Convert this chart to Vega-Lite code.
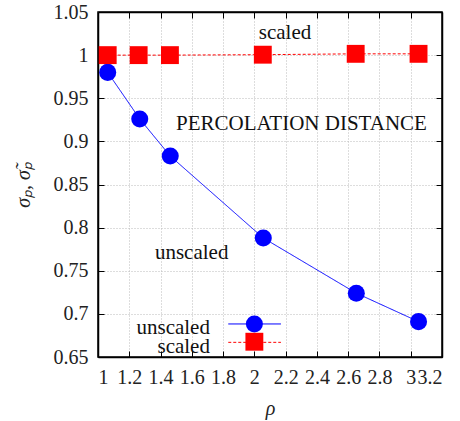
{
  "$schema": "https://vega.github.io/schema/vega-lite/v6.json",
  "width": 344,
  "height": 345,
  "autosize": "none",
  "padding": {"left": 98, "top": 12, "right": 18, "bottom": 64},
  "config": {
    "view": {"stroke": "black", "strokeWidth": 1.5},
    "axis": {
      "labelFont": "Liberation Serif",
      "labelFontSize": 20,
      "labelColor": "#222",
      "titleFont": "Liberation Serif",
      "titleFontSize": 20,
      "titleFontWeight": "normal",
      "titleColor": "#222",
      "domainColor": "black",
      "domainWidth": 1.5,
      "tickColor": "black",
      "tickWidth": 1,
      "gridColor": "#bbbbbb",
      "gridDash": [1, 2],
      "gridWidth": 1
    }
  },
  "datasets": {
    "main": [
      {"rho": 1.062, "sigma": 0.980, "series": "unscaled"},
      {"rho": 1.267, "sigma": 0.926, "series": "unscaled"},
      {"rho": 1.462, "sigma": 0.883, "series": "unscaled"},
      {"rho": 2.057, "sigma": 0.788, "series": "unscaled"},
      {"rho": 2.652, "sigma": 0.724, "series": "unscaled"},
      {"rho": 3.050, "sigma": 0.691, "series": "unscaled"},
      {"rho": 1.062, "sigma": 1.000, "series": "scaled"},
      {"rho": 1.260, "sigma": 1.000, "series": "scaled"},
      {"rho": 1.460, "sigma": 1.000, "series": "scaled"},
      {"rho": 2.054, "sigma": 1.0005, "series": "scaled"},
      {"rho": 2.648, "sigma": 1.0015, "series": "scaled"},
      {"rho": 3.050, "sigma": 1.0015, "series": "scaled"}
    ],
    "one": [{}]
  },
  "resolve": {"axis": {"x": "independent", "y": "independent"}},
  "layer": [
    {
      "data": {"name": "main"},
      "mark": {"type": "line", "strokeWidth": 1},
      "encoding": {
        "x": {
          "field": "rho", "type": "quantitative",
          "scale": {"domain": [1, 3.2], "nice": false, "zero": false},
          "axis": {
            "values": [1, 1.2, 1.4, 1.6, 1.8, 2, 2.2, 2.4, 2.6, 2.8, 3, 3.2],
            "labelFont": "Liberation Serif", "titleFont": "Liberation Serif",
            "format": "~g", "tickSize": -6, "labelPadding": 16,
            "title": "ρ", "titleFontStyle": "italic", "titlePadding": 11, "grid": true
          }
        },
        "y": {
          "field": "sigma", "type": "quantitative",
          "scale": {"domain": [0.65, 1.05], "nice": false, "zero": false},
          "axis": {
            "values": [0.65, 0.7, 0.75, 0.8, 0.85, 0.9, 0.95, 1, 1.05],
            "labelFont": "Liberation Serif", "titleFont": "Liberation Serif",
            "format": "~g", "tickSize": -6, "labelPadding": 16,
            "title": "σₚ, σ̃ₚ", "titleFontStyle": "italic", "titlePadding": 20, "grid": true
          }
        },
        "color": {"field": "series", "type": "nominal",
          "scale": {"domain": ["unscaled", "scaled"], "range": ["#0000ff", "#ff0000"]}, "legend": null},
        "strokeDash": {"field": "series", "type": "nominal",
          "scale": {"domain": ["unscaled", "scaled"], "range": [[1, 0], [3, 2]]}, "legend": null}
      }
    },
    {
      "data": {"name": "main"},
      "mark": {"type": "point", "filled": true, "opacity": 1},
      "encoding": {
        "x": {"field": "rho", "type": "quantitative", "axis": {"orient": "top", "labels": false, "tickSize": -6, "title": null, "grid": false, "values": [1, 1.2, 1.4, 1.6, 1.8, 2, 2.2, 2.4, 2.6, 2.8, 3, 3.2]}},
        "y": {"field": "sigma", "type": "quantitative", "axis": {"orient": "right", "labels": false, "tickSize": -6, "title": null, "grid": false, "values": [0.65, 0.7, 0.75, 0.8, 0.85, 0.9, 0.95, 1, 1.05]}},
        "color": {"field": "series", "type": "nominal", "legend": null},
        "shape": {"field": "series", "type": "nominal",
          "scale": {"domain": ["unscaled", "scaled"], "range": ["circle", "square"]}, "legend": null},
        "size": {"field": "series", "type": "nominal",
          "scale": {"domain": ["unscaled", "scaled"], "range": [290, 320]}, "legend": null}
      }
    },
    {
      "data": {"name": "one"},
      "mark": {"type": "text", "font": "Liberation Serif", "fontSize": 21, "color": "#111", "align": "center", "baseline": "middle"},
      "encoding": {
        "x": {"datum": 2.196, "type": "quantitative", "axis": null},
        "y": {"datum": 1.0256, "type": "quantitative", "axis": null},
        "text": {"value": "scaled"}
      }
    },
    {
      "data": {"name": "one"},
      "mark": {"type": "text", "font": "Liberation Serif", "fontSize": 21, "color": "#111", "align": "center", "baseline": "middle"},
      "encoding": {
        "x": {"datum": 2.301, "type": "quantitative", "axis": null},
        "y": {"datum": 0.92, "type": "quantitative", "axis": null},
        "text": {"value": "PERCOLATION DISTANCE"}
      }
    },
    {
      "data": {"name": "one"},
      "mark": {"type": "text", "font": "Liberation Serif", "fontSize": 21, "color": "#111", "align": "center", "baseline": "middle"},
      "encoding": {
        "x": {"datum": 1.599, "type": "quantitative", "axis": null},
        "y": {"datum": 0.7702, "type": "quantitative", "axis": null},
        "text": {"value": "unscaled"}
      }
    },
    {
      "data": {"name": "one"},
      "mark": {"type": "text", "font": "Liberation Serif", "fontSize": 21, "color": "#111", "align": "right", "baseline": "middle"},
      "encoding": {
        "x": {"datum": 1.716, "type": "quantitative", "axis": null},
        "y": {"datum": 0.6836, "type": "quantitative", "axis": null},
        "text": {"value": "unscaled"}
      }
    },
    {
      "data": {"name": "one"},
      "mark": {"type": "text", "font": "Liberation Serif", "fontSize": 21, "color": "#111", "align": "right", "baseline": "middle"},
      "encoding": {
        "x": {"datum": 1.716, "type": "quantitative", "axis": null},
        "y": {"datum": 0.662, "type": "quantitative", "axis": null},
        "text": {"value": "scaled"}
      }
    },
    {
      "data": {"name": "one"},
      "mark": {"type": "rule", "color": "#0000ff", "strokeWidth": 1},
      "encoding": {
        "x": {"datum": 1.833, "type": "quantitative", "axis": null},
        "x2": {"datum": 2.17},
        "y": {"datum": 0.6883, "type": "quantitative", "axis": null}
      }
    },
    {
      "data": {"name": "one"},
      "mark": {"type": "rule", "color": "#ff0000", "strokeWidth": 1, "strokeDash": [3, 2]},
      "encoding": {
        "x": {"datum": 1.833, "type": "quantitative", "axis": null},
        "x2": {"datum": 2.17},
        "y": {"datum": 0.667, "type": "quantitative", "axis": null}
      }
    },
    {
      "data": {"name": "one"},
      "mark": {"type": "point", "filled": true, "opacity": 1, "shape": "circle", "size": 290, "color": "#0000ff"},
      "encoding": {
        "x": {"datum": 2.0, "type": "quantitative", "axis": null},
        "y": {"datum": 0.6883, "type": "quantitative", "axis": null}
      }
    },
    {
      "data": {"name": "one"},
      "mark": {"type": "point", "filled": true, "opacity": 1, "shape": "square", "size": 320, "color": "#ff0000"},
      "encoding": {
        "x": {"datum": 2.0, "type": "quantitative", "axis": null},
        "y": {"datum": 0.6677, "type": "quantitative", "axis": null}
      }
    }
  ]
}
